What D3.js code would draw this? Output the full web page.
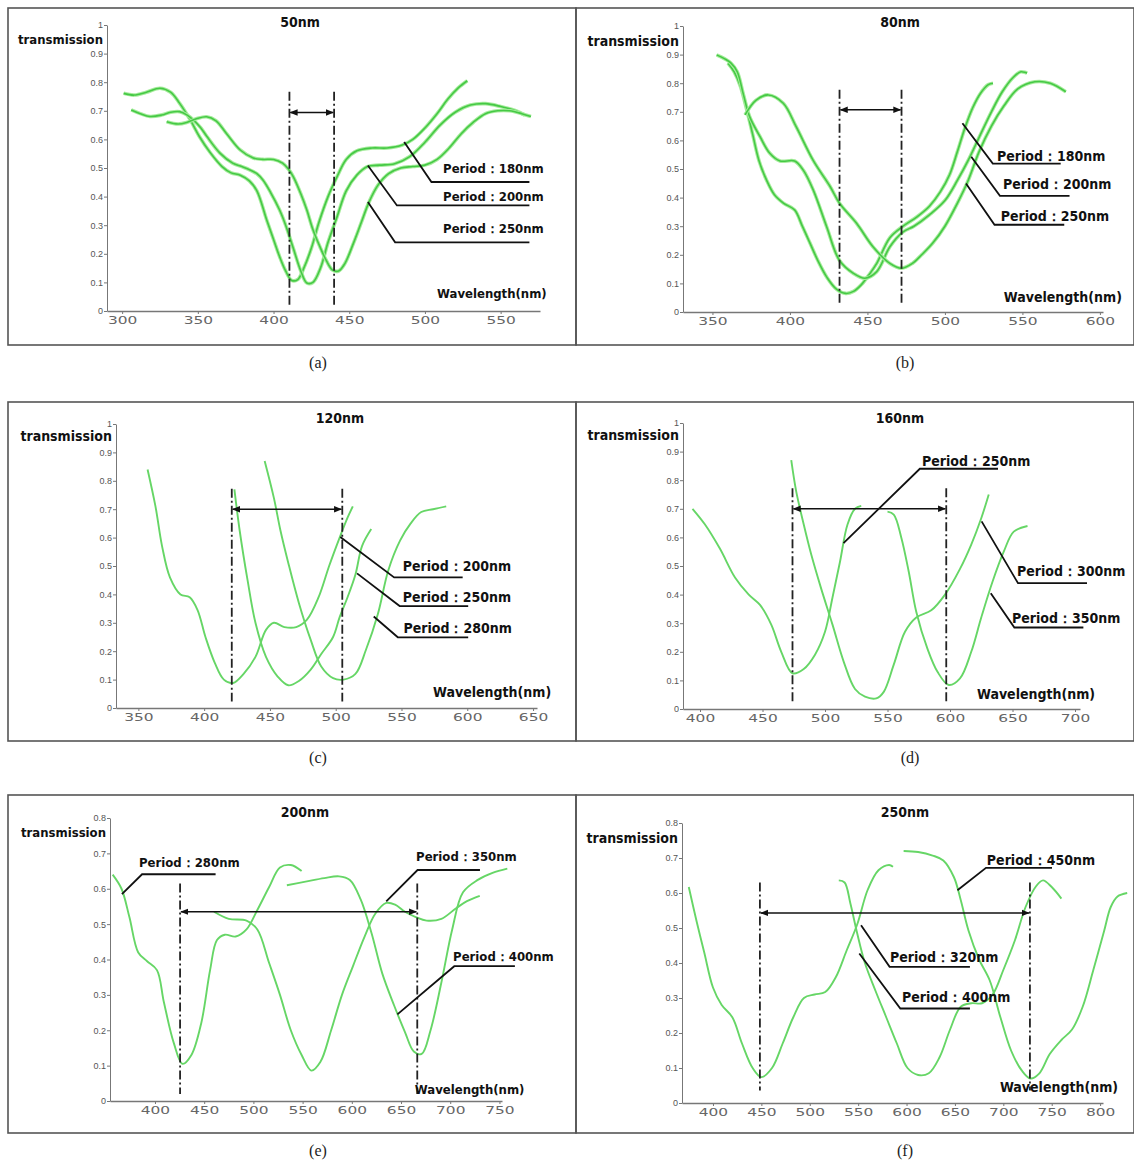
<!DOCTYPE html>
<html>
<head>
<meta charset="utf-8">
<script src="https://cdn.jsdelivr.net/npm/d3@7"></script>
<style>
  body { margin: 0; background: #fff; }
  .lab { font-family: 'DejaVu Sans Condensed', 'Liberation Sans Narrow', 'DejaVu Sans', sans-serif; font-stretch: condensed; font-weight: bold; fill: #111; }
  .cap { font-family: 'Liberation Serif', 'DejaVu Serif', serif; fill: #222; }
</style>
</head>
<body>
<div id="fig"></div>
<script>
// ---- tick values ----
const yTicks10 = [0, 0.1, 0.2, 0.3, 0.4, 0.5, 0.6, 0.7, 0.8, 0.9, 1];
const yTicks8 = [0, 0.1, 0.2, 0.3, 0.4, 0.5, 0.6, 0.7, 0.8];
const xTicksA = [300, 350, 400, 450, 500, 550];
const xTicksB = [350, 400, 450, 500, 550, 600];
const xTicksC = [350, 400, 450, 500, 550, 600, 650];
const xTicksD = [400, 450, 500, 550, 600, 650, 700];
const xTicksE = [400, 450, 500, 550, 600, 650, 700, 750];
const xTicksF = [400, 450, 500, 550, 600, 650, 700, 750, 800];

// ---- curves [wavelength nm, transmission] ----
// (a) 50nm
const a180 = [[301,0.761],[308,0.755],[316,0.765],[325,0.779],[332,0.765],[338,0.726],[345,0.668],[351,0.61],[358,0.555],[366,0.505],[372,0.483],[378,0.475],[384,0.455],[389,0.42],[395.5,0.318],[400,0.25],[404,0.19],[408,0.14],[412,0.107],[416,0.11],[420,0.15],[425,0.22],[430,0.31],[436,0.40],[442,0.47],[448,0.53],[455,0.56],[465,0.57],[475,0.57],[485,0.58],[492,0.60],[500,0.64],[508,0.69],[515,0.74],[522,0.78],[528,0.805]];
const a200 = [[306,0.703],[312,0.69],[318.4,0.68],[326,0.685],[332,0.695],[338,0.697],[343,0.685],[347,0.668],[352,0.64],[356,0.61],[364.6,0.552],[373,0.517],[379,0.505],[384.5,0.493],[389,0.48],[393,0.458],[398,0.415],[404,0.353],[408,0.30],[413,0.22],[418,0.14],[422,0.098],[426,0.10],[431,0.15],[436,0.24],[442,0.33],[448,0.42],[455,0.475],[462,0.505],[470,0.51],[480,0.515],[490,0.54],[500,0.59],[510,0.65],[520,0.695],[530,0.72],[540,0.725],[550,0.715],[560,0.70],[566,0.685]];
const a250 = [[329.4,0.662],[337,0.654],[343,0.66],[349,0.672],[355.8,0.679],[362,0.665],[369,0.62],[378,0.563],[386.6,0.535],[393,0.53],[400,0.53],[406,0.517],[410,0.495],[413,0.47],[418,0.41],[422,0.353],[426,0.285],[430.7,0.224],[435,0.175],[439,0.143],[443,0.14],[447,0.165],[453,0.24],[458,0.31],[463,0.38],[469,0.44],[476,0.48],[484,0.50],[492,0.505],[500,0.51],[508,0.53],[516,0.57],[524,0.62],[532,0.66],[540,0.69],[548,0.70],[556,0.70],[564,0.69],[570,0.68]];
// (b) 80nm
const b180 = [[360,0.87],[364,0.84],[368,0.79],[372,0.71],[376,0.62],[380,0.53],[385,0.46],[390,0.41],[396,0.38],[403,0.357],[408,0.30],[413,0.24],[418,0.18],[424,0.12],[430,0.08],[436,0.065],[441,0.072],[446,0.095],[451,0.13],[456,0.17],[464.5,0.26],[473,0.30],[482,0.333],[490,0.37],[497,0.42],[503,0.48],[508,0.56],[513,0.645],[518,0.715],[523,0.765],[528,0.795],[531,0.80]];
const b200 = [[352.7,0.899],[358,0.885],[362,0.87],[366,0.84],[370,0.76],[374,0.683],[380.7,0.613],[387,0.555],[393.6,0.528],[403,0.528],[408.6,0.496],[415,0.427],[423.7,0.298],[432,0.18],[441,0.135],[448.4,0.118],[456,0.141],[464.5,0.228],[473,0.28],[480,0.30],[490,0.34],[500,0.39],[508,0.46],[515,0.53],[522,0.61],[530,0.70],[537,0.77],[544,0.82],[549,0.84],[553,0.835]];
const b250 = [[371,0.689],[378,0.74],[386,0.759],[395.7,0.73],[404,0.648],[415,0.53],[426,0.438],[432,0.38],[443,0.31],[453.6,0.228],[464.5,0.17],[472,0.153],[479,0.17],[485,0.20],[492,0.24],[500,0.30],[508,0.38],[515,0.46],[522,0.56],[530,0.65],[538,0.72],[547,0.78],[558,0.805],[568,0.80],[578,0.77]];
// (c) 120nm
const c200 = [[357,0.84],[363,0.71],[368,0.57],[374,0.46],[382,0.40],[389,0.39],[395,0.345],[401,0.25],[408,0.16],[415,0.10],[422,0.088],[430,0.12],[439,0.18],[447,0.275],[453,0.30],[461,0.285],[470,0.285],[478,0.31],[487,0.39],[495,0.50],[503,0.60],[509,0.67],[513,0.71]];
const c250 = [[423,0.77],[427,0.625],[433,0.45],[439,0.30],[447,0.18],[456,0.11],[464,0.08],[472,0.095],[481,0.135],[489,0.19],[498,0.25],[503,0.32],[509,0.39],[515,0.47],[520,0.57],[527,0.63]];
const c280 = [[446,0.87],[453,0.74],[458,0.625],[464,0.51],[472,0.37],[481,0.24],[489,0.146],[498,0.105],[506,0.10],[515,0.12],[523,0.205],[532,0.33],[540,0.485],[549,0.59],[557,0.65],[565,0.69],[574,0.70],[584,0.71]];
// (d) 160nm
const d250 = [[394,0.70],[404,0.645],[416,0.56],[428,0.46],[439,0.40],[448,0.364],[457,0.295],[465,0.20],[474,0.125],[483,0.14],[492,0.19],[500,0.27],[506,0.39],[512,0.515],[518,0.645],[524,0.70],[529,0.71]];
const d300 = [[473,0.87],[477,0.76],[483,0.645],[489,0.54],[497,0.42],[506,0.295],[515,0.165],[524,0.07],[532,0.043],[541,0.037],[547,0.06],[555,0.155],[564,0.27],[573,0.32],[585,0.345],[596,0.40],[608,0.49],[617,0.575],[625,0.667],[631,0.75]];
const d350 = [[550,0.69],[555,0.68],[561,0.60],[567,0.48],[573,0.34],[582,0.21],[590,0.13],[599,0.084],[608,0.107],[617,0.20],[625,0.32],[634,0.445],[643,0.55],[651,0.62],[662,0.64]];
// (e) 200nm
const e280 = [[357,0.64],[366,0.60],[374,0.52],[383,0.42],[392,0.395],[402,0.37],[409,0.28],[419,0.165],[428,0.105],[437,0.13],[447,0.22],[456,0.37],[463,0.455],[471,0.47],[482,0.465],[493,0.485],[504,0.54],[516,0.605],[527,0.66],[538,0.667],[549,0.65]];
const e350 = [[460,0.535],[475,0.515],[493,0.51],[504,0.485],[516,0.39],[527,0.30],[538,0.20],[549,0.13],[559,0.086],[568,0.11],[579,0.20],[590,0.30],[601,0.38],[613,0.465],[624,0.53],[635,0.56],[644,0.555],[654,0.535],[665,0.52],[676,0.51],[691,0.515],[706,0.545],[717,0.565],[730,0.58]];
const e400 = [[534,0.61],[553,0.62],[572,0.63],[587,0.635],[598,0.625],[609,0.57],[620,0.475],[631,0.36],[643,0.27],[654,0.195],[663,0.14],[671,0.133],[680,0.20],[691,0.335],[702,0.485],[713,0.59],[728,0.625],[743,0.645],[758,0.657]];
// (f) 250nm
const f320 = [[375,0.617],[383,0.52],[391,0.43],[400,0.33],[409,0.28],[420,0.245],[430,0.17],[441,0.10],[450,0.074],[461,0.10],[472,0.17],[483,0.245],[494,0.30],[505,0.31],[516,0.317],[527,0.36],[538,0.435],[549,0.51],[560,0.61],[571,0.665],[582,0.68],[586,0.675]];
const f400 = [[530,0.636],[536,0.63],[542,0.57],[549,0.485],[557,0.40],[568,0.32],[579,0.245],[590,0.17],[601,0.10],[612,0.08],[623,0.085],[634,0.13],[645,0.21],[656,0.275],[667,0.285],[678,0.285],[689,0.31],[700,0.38],[712,0.465],[723,0.56],[734,0.62],[741,0.636],[750,0.617],[760,0.584]];
const f450 = [[597,0.72],[612,0.717],[627,0.707],[638,0.693],[649,0.645],[656,0.58],[664,0.493],[675,0.41],[686,0.35],[697,0.245],[708,0.15],[719,0.093],[728,0.07],[737,0.084],[748,0.14],[760,0.18],[771,0.21],[782,0.275],[793,0.38],[804,0.49],[811,0.56],[818,0.59],[828,0.60]];

// ---- marked resonance wavelengths (dash-dot lines) ----
const dashA = [410.5, 440];
const dashB = [432, 472];
const dashC = [421, 505];
const dashD = [474, 597];
const dashE = [425.5, 666.5];
const dashF = [448.5, 727.5];

// ---- period labels: leader points [nm, T], text anchor [nm, T] ----
const labelsA = [
  {text: "Period：180nm", pts: [[486.3,0.591],[504.3,0.451],[569,0.451]], at: [512,0.497]},
  {text: "Period：200nm", pts: [[462.3,0.509],[481.5,0.369],[569,0.369]], at: [512,0.402]},
  {text: "Period：250nm", pts: [[462.3,0.381],[480.3,0.24],[569,0.24]], at: [512,0.287]}
];
const labelsB = [
  {text: "Period：180nm", pts: [[511.3,0.66],[530.9,0.519],[574.7,0.519]], at: [533.6,0.545]},
  {text: "Period：200nm", pts: [[517,0.543],[535.5,0.406],[580.4,0.406]], at: [537.5,0.448]},
  {text: "Period：250nm", pts: [[513.6,0.449],[532,0.305],[577,0.305]], at: [536,0.336]}
];
const labelsC = [
  {text: "Period：200nm", pts: [[503.5,0.602],[544.4,0.46],[596.5,0.46]], at: [551,0.50]},
  {text: "Period：250nm", pts: [[516.2,0.474],[548.6,0.359],[600.7,0.359]], at: [551,0.389]},
  {text: "Period：280nm", pts: [[528.9,0.322],[547.2,0.249],[600.7,0.249]], at: [551.5,0.283]}
];
const labelsD = [
  {text: "Period：250nm", pts: [[514.8,0.58],[575.9,0.84],[638.4,0.84]], at: [577.6,0.867]},
  {text: "Period：300nm", pts: [[625.3,0.656],[654.4,0.44],[709.6,0.44]], at: [653.6,0.483]},
  {text: "Period：350nm", pts: [[632.6,0.405],[651.5,0.285],[706.7,0.285]], at: [649.6,0.318]}
];
const labelsE = [
  {text: "Period：280nm", pts: [[366.4,0.585],[386.9,0.641],[461.6,0.641]], at: [383.8,0.675]},
  {text: "Period：350nm", pts: [[635,0.564],[666.8,0.653],[730.2,0.653]], at: [665.3,0.692]},
  {text: "Period：400nm", pts: [[646.3,0.245],[704.1,0.381],[765.7,0.381]], at: [702.9,0.41]}
];
const labelsF = [
  {text: "Period：450nm", pts: [[652.6,0.608],[682.1,0.672],[750.3,0.672]], at: [683,0.694]},
  {text: "Period：320nm", pts: [[553,0.508],[582.5,0.389],[665.5,0.389]], at: [582.9,0.417]},
  {text: "Period：400nm", pts: [[551.2,0.427],[593.6,0.27],[665.5,0.27]], at: [595.3,0.303]}
];

// ---- panel layout ----
const panels = [
  {cap: "(a)", capPos: [318,362], title: "50nm", titlePos: [300,22], frame: [8,8,576,345],
   xdom: [290,576], xr: [107,540], ydom: [0,1], yr: [311,25], xticks: xTicksA, yticks: yTicks10,
   curves: [a180,a200,a250], thick: true, dash: dashA, dashY: [0.767,0.018], arrowY: 0.694,
   labels: labelsA, wave: [508,0.063], trans: 0.948, fs: 13},
  {cap: "(b)", capPos: [905,362], title: "80nm", titlePos: [900,22], frame: [576,8,1134,345],
   xdom: [331,602], xr: [683,1103], ydom: [0,1], yr: [312,26], xticks: xTicksB, yticks: yTicks10,
   curves: [b180,b200,b250], thick: true, dash: dashB, dashY: [0.777,0.027], arrowY: 0.707,
   labels: labelsB, wave: [538,0.052], trans: 0.948, fs: 14},
  {cap: "(c)", capPos: [318,757], title: "120nm", titlePos: [340,418], frame: [8,402,576,741],
   xdom: [333,653], xr: [116,537], ydom: [0,1], yr: [708,424], xticks: xTicksC, yticks: yTicks10,
   curves: [c200,c250,c280], thick: false, dash: dashC, dashY: [0.772,0.023], arrowY: 0.70,
   labels: labelsC, wave: [574,0.057], trans: 0.958, fs: 14},
  {cap: "(d)", capPos: [910,757], title: "160nm", titlePos: [900,418], frame: [576,402,1134,741],
   xdom: [386.4,704], xr: [683,1080], ydom: [0,1], yr: [709,423], xticks: xTicksD, yticks: yTicks10,
   curves: [d250,d300,d350], thick: false, dash: dashD, dashY: [0.772,0.02], arrowY: 0.70,
   labels: labelsD, wave: [621.6,0.052], trans: 0.958, fs: 14},
  {cap: "(e)", capPos: [318,1150], title: "200nm", titlePos: [305,812], frame: [8,795,576,1133],
   xdom: [354.3,752.6], xr: [110,502], ydom: [0,0.8], yr: [1101,818], xticks: xTicksE, yticks: yTicks8,
   curves: [e280,e350,e400], thick: false, dash: dashE, dashY: [0.615,0.02], arrowY: 0.535,
   labels: labelsE, wave: [664,0.034], trans: 0.76, fs: 13},
  {cap: "(f)", capPos: [905,1150], title: "250nm", titlePos: [905,812], frame: [576,795,1134,1133],
   xdom: [368,803], xr: [682,1103], ydom: [0,0.8], yr: [1103,823], xticks: xTicksF, yticks: yTicks8,
   curves: [f320,f400,f450], thick: false, dash: dashF, dashY: [0.63,0.036], arrowY: 0.543,
   labels: labelsF, wave: [696.5,0.046], trans: 0.757, fs: 14}
];

const W = 1134, H = 1163;
const svg = d3.select("#fig").append("svg")
    .attr("width", W)
    .attr("height", H)
    .style("background", "#fff");

// arrow heads
const defs = svg.append("defs");
defs.append("marker").attr("id", "arrEnd")
    .attr("viewBox", "0 0 10 10").attr("refX", 9).attr("refY", 5)
    .attr("markerWidth", 5).attr("markerHeight", 5).attr("orient", "auto")
  .append("path").attr("d", "M0,1 L10,5 L0,9 Z").attr("fill", "#111");
defs.append("marker").attr("id", "arrStart")
    .attr("viewBox", "0 0 10 10").attr("refX", 1).attr("refY", 5)
    .attr("markerWidth", 5).attr("markerHeight", 5).attr("orient", "auto")
  .append("path").attr("d", "M10,1 L0,5 L10,9 Z").attr("fill", "#111");

const fmtY = d => (d === 0 ? "0" : d === 1 ? "1" : d.toFixed(1));

panels.forEach(function(p) {
    const g = svg.append("g");

    // frame
    g.append("rect")
        .attr("x", p.frame[0]).attr("y", p.frame[1])
        .attr("width", p.frame[2] - p.frame[0]).attr("height", p.frame[3] - p.frame[1])
        .attr("fill", "none").attr("stroke", "#555").attr("stroke-width", 1.6);

    const x = d3.scaleLinear().domain(p.xdom).range(p.xr);
    const y = d3.scaleLinear().domain(p.ydom).range(p.yr);

    // Y axis
    const ya = g.append("g")
        .attr("transform", `translate(${p.xr[0]},0)`)
        .call(d3.axisLeft(y).tickValues(p.yticks).tickSize(3).tickSizeOuter(0).tickPadding(1).tickFormat(fmtY));
    ya.select(".domain").attr("stroke", "#777");
    ya.selectAll(".tick line").attr("stroke", "#777");
    ya.selectAll("text").attr("fill", "#555")
        .style("font", "9px 'Liberation Sans', Arial, sans-serif");

    // X axis (wide, stretched digits as in the original)
    const xa = g.append("g")
        .attr("transform", `translate(0,${p.yr[0]})`)
        .call(d3.axisBottom(x).tickValues(p.xticks).tickSize(3).tickSizeOuter(0).tickPadding(2));
    xa.select(".domain").attr("stroke", "#777").attr("stroke-width", 1.3);
    xa.selectAll(".tick line").attr("stroke", "#777");
    xa.selectAll("text").attr("fill", "#666")
        .attr("transform", "scale(1.4,1)")
        .style("font", "11px 'DejaVu Sans', sans-serif");

    // curves
    const line = d3.line()
        .x(d => x(d[0]))
        .y(d => y(d[1]))
        .curve(d3.curveCatmullRom.alpha(0.5));
    p.curves.forEach(function(c) {
        if (p.thick) {
            g.append("path").datum(c)
                .attr("fill", "none").attr("stroke", "#a6ec9c").attr("stroke-width", 3.6)
                .attr("d", line);
            g.append("path").datum(c)
                .attr("fill", "none").attr("stroke", "#45c945").attr("stroke-width", 1.6)
                .attr("d", line);
        } else {
            g.append("path").datum(c)
                .attr("fill", "none").attr("stroke", "#66d666").attr("stroke-width", 1.9)
                .attr("d", line);
        }
    });

    // dash-dot markers
    p.dash.forEach(function(w) {
        g.append("line")
            .attr("x1", x(w)).attr("x2", x(w))
            .attr("y1", y(p.dashY[0])).attr("y2", y(p.dashY[1]))
            .attr("stroke", "#222").attr("stroke-width", 1.8)
            .attr("stroke-dasharray", "9,3,2,3");
    });
    g.append("line")
        .attr("x1", x(p.dash[0]) + 1).attr("x2", x(p.dash[1]) - 1)
        .attr("y1", y(p.arrowY)).attr("y2", y(p.arrowY))
        .attr("stroke", "#111").attr("stroke-width", 1.6)
        .attr("marker-start", "url(#arrStart)")
        .attr("marker-end", "url(#arrEnd)");

    // period labels
    const lead = d3.line().x(d => x(d[0])).y(d => y(d[1]));
    p.labels.forEach(function(l) {
        g.append("path").datum(l.pts)
            .attr("fill", "none").attr("stroke", "#111").attr("stroke-width", 1.8)
            .attr("d", lead);
        g.append("text").attr("class", "lab")
            .attr("x", x(l.at[0])).attr("y", y(l.at[1]))
            .attr("dy", "0.35em")
            .style("font-size", p.fs + "px")
            .text(l.text);
    });

    // axis names and title
    g.append("text").attr("class", "lab")
        .attr("x", x(p.wave[0])).attr("y", y(p.wave[1]))
        .attr("dy", "0.35em")
        .style("font-size", p.fs + "px")
        .text("Wavelength(nm)");
    g.append("text").attr("class", "lab")
        .attr("x", p.xr[0] - 4).attr("y", y(p.trans))
        .attr("dy", "0.35em")
        .attr("text-anchor", "end")
        .style("font-size", p.fs + "px")
        .text("transmission");
    g.append("text").attr("class", "lab")
        .attr("x", p.titlePos[0]).attr("y", p.titlePos[1])
        .attr("dy", "0.35em")
        .attr("text-anchor", "middle")
        .style("font-size", "14px")
        .text(p.title);

    // caption
    g.append("text").attr("class", "cap")
        .attr("x", p.capPos[0]).attr("y", p.capPos[1])
        .attr("dy", "0.35em")
        .attr("text-anchor", "middle")
        .style("font-size", "16px")
        .text(p.cap);
});
</script>
</body>
</html>
